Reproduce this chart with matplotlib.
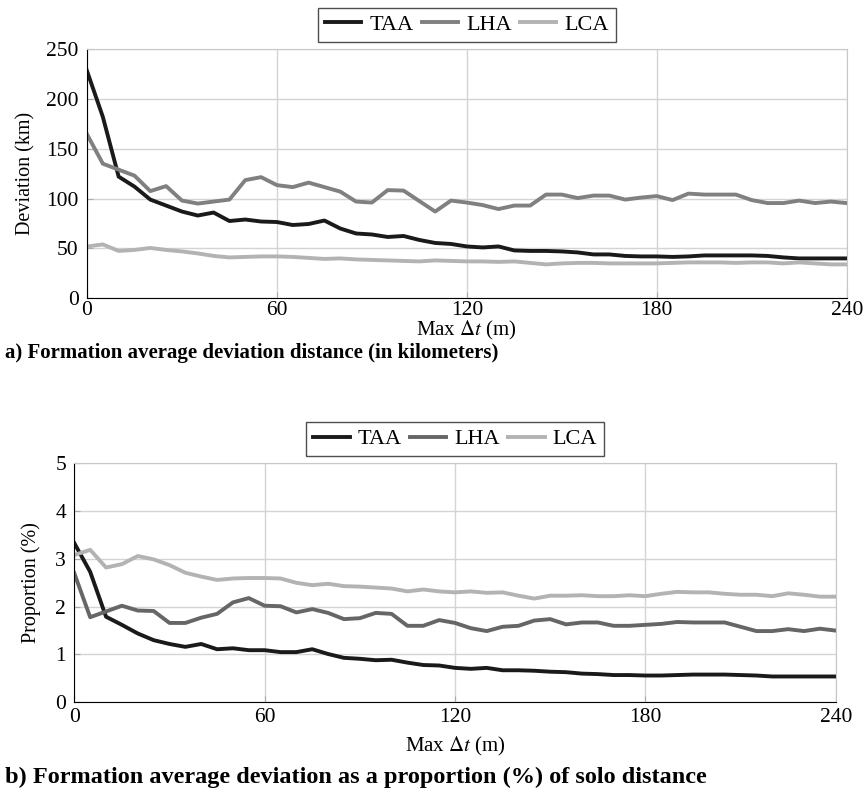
import matplotlib
matplotlib.use('Agg')
import matplotlib.pyplot as plt

plt.rcParams['font.family'] = ['Liberation Serif', 'DejaVu Serif']
plt.rcParams['mathtext.fontset'] = 'stix'

# Max delta t (minutes), one sample every 5 minutes.
max_dt = list(range(0, 245, 5))

# a) Average deviation distance (km)
taa_km = [228, 182, 122, 112, 99, 93, 87, 83, 86, 77.5, 79, 77, 76.5, 73.5, 74.5,
          78, 70, 65, 64, 61.5, 62.5, 58.5, 55.5, 54.5, 52, 51, 52, 48, 47.5,
          47.5, 47, 46, 44, 44, 42.5, 42, 42, 41.5, 42, 43, 43, 43, 43, 42.5,
          41, 40, 40, 40, 40]
lha_km = [164.5, 135, 129, 123, 107.5, 112.5, 98, 95, 97, 99, 118.5, 121.5, 113.5,
          111.5, 116, 111.5, 107, 97, 96, 108.5, 108, 97.5, 87, 98, 96, 93.5,
          89.5, 93, 93, 104, 104, 100.5, 103, 103, 99, 101, 102.5, 98.5, 105,
          104, 104, 104, 98.5, 95.5, 95.5, 98, 95.5, 97, 95.5]
lca_km = [52, 54, 47.5, 48.5, 50.5, 48.5, 47, 45, 42.5, 41, 41.5, 42, 42, 41.5,
          40.5, 39.5, 40, 39, 38.5, 38, 37.5, 37, 38, 37.5, 37, 37, 36.5, 37,
          35.5, 34, 35, 35.5, 35.5, 35, 35, 35, 35, 35.5, 36, 36, 36, 35.5, 36,
          36, 35, 36, 35, 34, 34]

# b) Deviation as a proportion of solo distance (%)
taa_pct = [3.33, 2.73, 1.79, 1.62, 1.44, 1.30, 1.22, 1.16, 1.22, 1.11, 1.13, 1.09,
           1.09, 1.05, 1.05, 1.11, 1.01, 0.93, 0.91, 0.88, 0.89, 0.83, 0.78,
           0.77, 0.72, 0.70, 0.72, 0.67, 0.67, 0.66, 0.64, 0.63, 0.60, 0.59,
           0.57, 0.57, 0.56, 0.56, 0.57, 0.58, 0.58, 0.58, 0.57, 0.56, 0.54,
           0.54, 0.54, 0.54, 0.54]
lha_pct = [2.70, 1.78, 1.90, 2.02, 1.92, 1.91, 1.66, 1.66, 1.77, 1.85, 2.09, 2.18,
           2.02, 2.01, 1.88, 1.95, 1.87, 1.74, 1.76, 1.87, 1.85, 1.60, 1.60,
           1.72, 1.66, 1.55, 1.49, 1.58, 1.60, 1.71, 1.74, 1.63, 1.67, 1.67,
           1.60, 1.60, 1.62, 1.64, 1.68, 1.67, 1.67, 1.67, 1.58, 1.49, 1.49,
           1.53, 1.49, 1.54, 1.50]
lca_pct = [3.08, 3.19, 2.82, 2.89, 3.06, 2.99, 2.87, 2.71, 2.63, 2.56, 2.59, 2.60,
           2.60, 2.59, 2.50, 2.45, 2.48, 2.43, 2.42, 2.40, 2.38, 2.32, 2.36,
           2.32, 2.30, 2.32, 2.29, 2.30, 2.23, 2.17, 2.23, 2.23, 2.24, 2.22,
           2.22, 2.24, 2.22, 2.27, 2.31, 2.30, 2.30, 2.27, 2.25, 2.25, 2.22,
           2.28, 2.25, 2.21, 2.21]

x_ticks = [0, 60, 120, 180, 240]


def style_axes(ax, ymax, ystep, xpad, xlabelpad):
    ax.set_xlim(0, 240)
    ax.set_ylim(0, ymax)
    ax.set_xticks(x_ticks)
    ax.set_yticks(range(0, ymax + 1, ystep))
    ax.grid(True, color='#d4d4d4', linewidth=1.0)
    ax.set_axisbelow(True)
    for side in ['top', 'right']:
        ax.spines[side].set_color('#c8c8c8')
    for side in ['left', 'bottom']:
        ax.spines[side].set_color('black')
    ax.tick_params(direction='in', length=4, color='#aaaaaa', labelsize=15.5)
    ax.tick_params(axis='y', pad=6)
    ax.tick_params(axis='x', pad=xpad)
    ax.set_xlabel(r'Max $\Delta t$ (m)', fontsize=15, labelpad=xlabelpad)
    leg = ax.legend(loc='lower center', bbox_to_anchor=(0.5, 1.03), ncol=3,
                    frameon=True, fancybox=False, edgecolor='#222222',
                    fontsize=16, handlelength=1.65, handletextpad=0.36,
                    columnspacing=0.36, borderpad=0.3, borderaxespad=0)
    leg.get_frame().set_linewidth(1.0)


fig = plt.figure(figsize=(8.63, 7.94), dpi=100)

ax1 = fig.add_axes([0.1008, 0.6243, 0.8803, 0.3140])
ax1.plot(max_dt, taa_km, color='#1a1a1a', lw=2.8, label='TAA')
ax1.plot(max_dt, lha_km, color='#808080', lw=2.8, label='LHA')
ax1.plot(max_dt, lca_km, color='#b3b3b3', lw=2.8, label='LCA')
style_axes(ax1, 250, 50, xpad=2, xlabelpad=-1)
ax1.set_ylabel('Deviation (km)', fontsize=14.5, labelpad=8)
fig.text(0.006, 0.555, 'a) Formation average deviation distance (in kilometers)',
         fontsize=15, fontweight='bold', va='center')

ax2 = fig.add_axes([0.0861, 0.1155, 0.8823, 0.3010])
ax2.plot(max_dt, taa_pct, color='#1a1a1a', lw=2.8, label='TAA')
ax2.plot(max_dt, lha_pct, color='#666666', lw=2.8, label='LHA')
ax2.plot(max_dt, lca_pct, color='#b3b3b3', lw=2.8, label='LCA')
style_axes(ax2, 5, 1, xpad=4, xlabelpad=6)
ax2.set_ylabel('Proportion (%)', fontsize=14.5, labelpad=10)
fig.text(0.006, 0.021,
         'b) Formation average deviation as a proportion (%) of solo distance',
         fontsize=17.5, fontweight='bold', va='center')

fig.savefig('out.png', dpi=100)
